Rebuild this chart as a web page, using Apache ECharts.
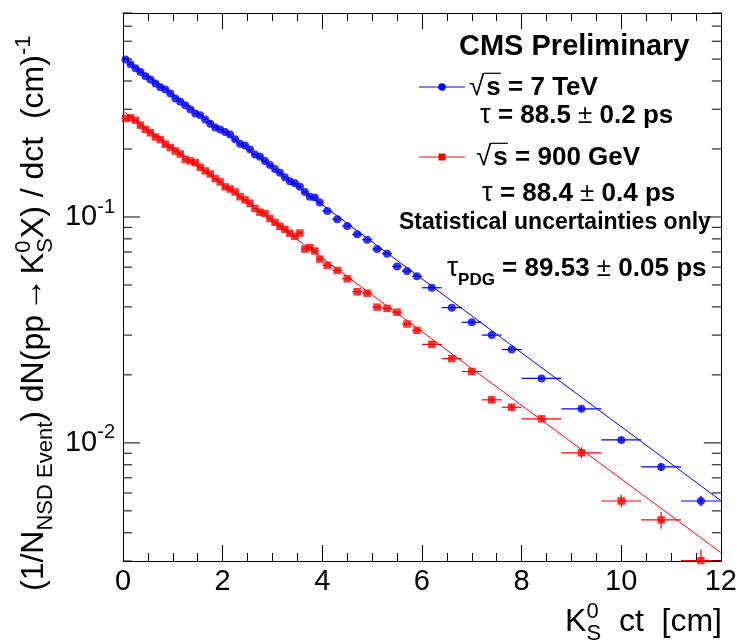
<!DOCTYPE html>
<html>
<head>
<meta charset="utf-8">
<script src="https://cdn.jsdelivr.net/npm/echarts@6/dist/echarts.min.js"></script>
<style>
  html, body { margin: 0; padding: 0; background: #fff; }
  #chart { width: 740px; height: 642px; }
</style>
</head>
<body>
<div id="chart"></div>
<script>
// K0s proper decay length distributions, CMS 7 TeV and 900 GeV.

// Bin centres (cm) of the ct histogram
const binCentres = [
  0.05, 0.15, 0.25, 0.35, 0.45, 0.55, 0.65, 0.75, 0.85, 0.95,
  1.05, 1.15, 1.25, 1.35, 1.45, 1.55, 1.65, 1.75, 1.85, 1.95,
  2.05, 2.15, 2.25, 2.35, 2.45, 2.55, 2.65, 2.75, 2.85, 2.95,
  3.05, 3.15, 3.25, 3.35, 3.45, 3.55, 3.65, 3.75, 3.85, 3.95,
  4.1, 4.3, 4.5, 4.7, 4.9, 5.1, 5.3, 5.5, 5.7, 5.9,
  6.2, 6.6, 7.0, 7.4, 7.8,
  8.4, 9.2, 10.0, 10.8, 11.6
];
// Half bin widths (cm)
const binHalfWidths = [
  0.05, 0.05, 0.05, 0.05, 0.05, 0.05, 0.05, 0.05, 0.05, 0.05,
  0.05, 0.05, 0.05, 0.05, 0.05, 0.05, 0.05, 0.05, 0.05, 0.05,
  0.05, 0.05, 0.05, 0.05, 0.05, 0.05, 0.05, 0.05, 0.05, 0.05,
  0.05, 0.05, 0.05, 0.05, 0.05, 0.05, 0.05, 0.05, 0.05, 0.05,
  0.1, 0.1, 0.1, 0.1, 0.1, 0.1, 0.1, 0.1, 0.1, 0.1,
  0.2, 0.2, 0.2, 0.2, 0.2,
  0.4, 0.4, 0.4, 0.4, 0.4
];

// (1/N) dN/dct at sqrt(s) = 7 TeV
const yield7TeV = [
  0.498, 0.474, 0.455, 0.438, 0.420, 0.406, 0.390, 0.375, 0.367, 0.352,
  0.335, 0.324, 0.312, 0.300, 0.287, 0.282, 0.270, 0.259, 0.249, 0.244,
  0.238, 0.232, 0.221, 0.211, 0.207, 0.199, 0.189, 0.185, 0.177, 0.170,
  0.163, 0.157, 0.150, 0.144, 0.141, 0.136, 0.129, 0.123, 0.122, 0.116,
  0.1063, 0.0977, 0.0912, 0.0838, 0.0794, 0.0721, 0.0688, 0.0604, 0.0576, 0.0546,
  0.0486, 0.0397, 0.0342, 0.0300, 0.0259,
  0.0193, 0.01415, 0.01031, 0.00783, 0.00553
];
const err7TeV = [
  0, 0, 0, 0, 0, 0, 0, 0, 0, 0,
  0, 0, 0, 0, 0, 0, 0, 0, 0, 0,
  0, 0, 0, 0, 0, 0, 0, 0, 0, 0,
  0, 0, 0, 0, 0, 0, 0, 0, 0, 0,
  0, 0, 0, 0, 0, 0, 0, 0, 0, 0,
  0.0003, 0.0003, 0.0003, 0.0003, 0.0003,
  0.0003, 0.0003, 0.0003, 0.0003, 0.0003
];

// (1/N) dN/dct at sqrt(s) = 900 GeV
const yield900GeV = [
  0.273, 0.275, 0.268, 0.255, 0.244, 0.236, 0.226, 0.220, 0.210, 0.203,
  0.196, 0.190, 0.180, 0.177, 0.174, 0.166, 0.160, 0.155, 0.148, 0.143,
  0.136, 0.133, 0.129, 0.123, 0.119, 0.115, 0.109, 0.105, 0.1035, 0.0984,
  0.0947, 0.0909, 0.0882, 0.0847, 0.0821, 0.0849, 0.0721, 0.0732, 0.0707, 0.0651,
  0.0611, 0.0580, 0.0533, 0.0467, 0.0460, 0.0399, 0.0394, 0.0379, 0.0336, 0.0315,
  0.0273, 0.0236, 0.0207, 0.01551, 0.01438,
  0.01278, 0.00904, 0.00553, 0.00456, 0.00301
];
const err900GeV = [
  0, 0, 0, 0, 0, 0, 0, 0, 0, 0,
  0, 0, 0, 0, 0, 0, 0, 0, 0, 0,
  0, 0, 0, 0, 0, 0, 0, 0, 0, 0,
  0, 0, 0, 0, 0, 0, 0, 0, 0, 0,
  0, 0, 0, 0, 0, 0, 0, 0, 0, 0,
  0.0003, 0.0003, 0.0003, 0.0004, 0.0004,
  0.0004, 0.0005, 0.00036, 0.00039, 0.00037
];

// Exponential fits, value at ct = 0 and ct = 12 cm
const fitRange = [0, 12];
const fit7TeV = [0.511, 0.00555];
const fit900GeV = [0.295, 0.00327];

// Axis ticks
const xTickValues = [0, 2, 4, 6, 8, 10, 12];
const yDecades = [-3, -2, -1];
const yMantissas = [1, 2, 3, 4, 5, 6, 7, 8, 9];

const X_MIN = 0, X_MAX = 12, Y_MIN = 0.003, Y_MAX = 0.8;
const FONT = '"Liberation Sans", Arial, Helvetica, sans-serif';
const BLUE = '#0000ff', RED = '#ff0000';

const chart = echarts.init(document.getElementById('chart'), null, { renderer: 'canvas' });

// ---- text helpers -------------------------------------------------------
const measureCtx = document.createElement('canvas').getContext('2d');
function textWidth(t, size, weight) {
  measureCtx.font = (weight || 'normal') + ' ' + size + 'px ' + FONT;
  return measureCtx.measureText(t).width;
}
// Lays out text pieces along one baseline (local y = 0) starting at local x = 0.
function textRun(pieces) {
  let x = 0;
  const children = [];
  pieces.forEach(p => {
    const w = textWidth(p.t, p.size, p.weight);
    const x0 = x + (p.dx || 0);
    children.push({
      type: 'text', x: x0, y: (p.dy || 0) - 0.35 * p.size,
      style: {
        text: p.t, fontSize: p.size, fontWeight: p.weight || 'normal', fontFamily: FONT,
        fill: p.color || '#000', textAlign: 'left', textVerticalAlign: 'middle', verticalAlign: 'middle'
      }
    });
    if (p.over) {
      // overline of the square root sign
      children.push({
        type: 'line',
        shape: { x1: x0 - 3, y1: -0.9 * p.size, x2: x0 + w, y2: -0.9 * p.size },
        style: { stroke: '#000', lineWidth: 1.2 }
      });
    }
    if (!p.hold) x = x0 + w;
  });
  return { children, width: x };
}
function placeRun(pieces, x, y, align) {
  const run = textRun(pieces);
  return { type: 'group', x: align === 'right' ? x - run.width : x, y: y, children: run.children };
}

// ---- graphic overlays: titles, legend, annotations -----------------------
const yTitle = textRun([
  { t: '(1/N', size: 32 },
  { t: 'NSD Event', size: 22, dy: 9 },
  { t: ') dN(pp\u2009', size: 32 },
  { t: '\u2192', size: 34, dx: -3 },
  { t: '\u2009K', size: 32, dx: -3 },
  { t: '0', size: 22, dy: -13, hold: true },
  { t: 'S', size: 22, dy: 9 },
  { t: 'X) / dct  (cm)', size: 32 },
  { t: '-1', size: 22, dy: -13 }
]);

const graphics = [
  // y axis title, reading bottom to top
  { type: 'group', x: 45, y: 591, rotation: Math.PI / 2, children: yTitle.children },
  // x axis title
  placeRun([
    { t: 'K', size: 32 },
    { t: '0', size: 22, dy: -13, hold: true },
    { t: 'S', size: 22, dy: 9 },
    { t: '  ct  [cm]', size: 32 }
  ], 722, 633, 'right'),
  // experiment label
  placeRun([{ t: 'CMS Preliminary', size: 29, weight: 'bold' }], 459, 56.7),
  // legend markers
  { type: 'line', shape: { x1: 419, y1: 87, x2: 465, y2: 87 }, style: { stroke: BLUE, lineWidth: 1 } },
  { type: 'circle', shape: { cx: 442, cy: 87, r: 3.8 }, style: { fill: BLUE } },
  { type: 'line', shape: { x1: 419, y1: 157, x2: 465, y2: 157 }, style: { stroke: RED, lineWidth: 1 } },
  { type: 'rect', shape: { x: 438.5, y: 153.5, width: 7, height: 7 }, style: { fill: RED } },
  // legend texts
  placeRun([
    { t: '\u221A', size: 28 },
    { t: 's', size: 26, weight: 'bold', over: true, dx: 2 },
    { t: ' = 7 TeV', size: 26, weight: 'bold' }
  ], 469, 96.7),
  placeRun([
    { t: '\u03C4', size: 27 },
    { t: ' = 88.5 ', size: 26, weight: 'bold' },
    { t: '\u00B1', size: 26 },
    { t: ' 0.2 ps', size: 26, weight: 'bold' }
  ], 480, 125),
  placeRun([
    { t: '\u221A', size: 28 },
    { t: 's', size: 26, weight: 'bold', over: true, dx: 2 },
    { t: ' = 900 GeV', size: 26, weight: 'bold' }
  ], 476, 166.7),
  placeRun([
    { t: '\u03C4', size: 27 },
    { t: ' = 88.4 ', size: 26, weight: 'bold' },
    { t: '\u00B1', size: 26 },
    { t: ' 0.4 ps', size: 26, weight: 'bold' }
  ], 482, 203.3),
  placeRun([{ t: 'Statistical uncertainties only', size: 23, weight: 'bold' }], 399, 230.7),
  placeRun([
    { t: '\u03C4', size: 28 },
    { t: 'PDG', size: 17, weight: 'bold', dy: 8 },
    { t: ' = 89.53 ', size: 26, weight: 'bold' },
    { t: '\u00B1', size: 26 },
    { t: ' 0.05 ps', size: 26, weight: 'bold' }
  ], 447, 278.3)
];

// ---- series data ----------------------------------------------------------
function points(values) {
  return binCentres.map((x, i) => [x, values[i]]);
}
function errorData(values, errs) {
  return binCentres.map((x, i) => [x, values[i], binHalfWidths[i], errs[i]]);
}
function errorBars(color) {
  return function (params, api) {
    const x = api.value(0), y = api.value(1), hw = api.value(2), e = api.value(3);
    const c = api.coord([x, y]);
    const l = api.coord([x - hw, y]);
    const r = api.coord([x + hw, y]);
    const children = [{
      type: 'line', shape: { x1: l[0], y1: c[1], x2: r[0], y2: c[1] },
      style: { stroke: color, lineWidth: 1.2 }
    }];
    if (e > 0) {
      const t = api.coord([x, y + e]);
      const b = api.coord([x, Math.max(y - e, 1e-4)]);
      children.push({
        type: 'line', shape: { x1: c[0], y1: t[1], x2: c[0], y2: b[1] },
        style: { stroke: color, lineWidth: 1.2 }
      });
    }
    return { type: 'group', children };
  };
}

// y tick marks (log decades with 2..9 subdivisions) on both frame sides
const yTickData = [];
yDecades.forEach(d => yMantissas.forEach(m => {
  const v = m * Math.pow(10, d);
  if (v >= Y_MIN && v <= Y_MAX) yTickData.push([X_MIN, v, m === 1 ? 1 : 0]);
}));

function xAxisCfg(position, showLabels) {
  return {
    type: 'value', min: X_MIN, max: X_MAX, interval: 2, position: position,
    axisLine: { show: true, onZero: false, lineStyle: { color: '#000', width: 1 } },
    axisTick: { show: true, inside: true, length: 16, lineStyle: { color: '#000', width: 1 } },
    minorTick: { show: true, splitNumber: 4, length: 8, lineStyle: { color: '#000', width: 1 } },
    splitLine: { show: false },
    minorSplitLine: { show: false },
    axisLabel: {
      show: showLabels, fontSize: 29, fontFamily: FONT, color: '#000', margin: 6,
      formatter: v => (xTickValues.indexOf(v) >= 0 ? String(v) : '')
    }
  };
}

const option = {
  animation: false,
  backgroundColor: '#fff',
  grid: { left: 123, right: 17, top: 13, bottom: 81, containLabel: false },
  xAxis: [xAxisCfg('bottom', true), xAxisCfg('top', false)],
  yAxis: [
    {
      type: 'log', logBase: 10, min: Y_MIN, max: Y_MAX, position: 'left',
      axisLine: { show: true, onZero: false, lineStyle: { color: '#000', width: 1 } },
      axisTick: { show: false },
      splitLine: { show: false },
      axisLabel: {
        show: true, margin: 8, showMinLabel: false, showMaxLabel: false,
        formatter: v => '{m|10}{e|' + Math.round(Math.log10(v)) + '}',
        rich: {
          m: { fontSize: 29, fontFamily: FONT, color: '#000', lineHeight: 40, verticalAlign: 'middle' },
          e: { fontSize: 20, fontFamily: FONT, color: '#000', lineHeight: 16, verticalAlign: 'top' }
        }
      }
    },
    {
      type: 'log', logBase: 10, min: Y_MIN, max: Y_MAX, position: 'right',
      axisLine: { show: true, onZero: false, lineStyle: { color: '#000', width: 1 } },
      axisTick: { show: false }, axisLabel: { show: false }, splitLine: { show: false }
    }
  ],
  graphic: graphics,
  series: [
    {
      name: 'fit 7 TeV', type: 'line', symbol: 'none', silent: true, z: 2,
      data: [[fitRange[0], fit7TeV[0]], [fitRange[1], fit7TeV[1]]],
      lineStyle: { color: BLUE, width: 1 }
    },
    {
      name: 'fit 900 GeV', type: 'line', symbol: 'none', silent: true, z: 2,
      data: [[fitRange[0], fit900GeV[0]], [fitRange[1], fit900GeV[1]]],
      lineStyle: { color: RED, width: 1 }
    },
    {
      name: 'err 7 TeV', type: 'custom', clip: true, z: 3,
      renderItem: errorBars(BLUE), data: errorData(yield7TeV, err7TeV)
    },
    {
      name: 'err 900 GeV', type: 'custom', clip: true, z: 3,
      renderItem: errorBars(RED), data: errorData(yield900GeV, err900GeV)
    },
    {
      name: '\u221As = 7 TeV', type: 'scatter', symbol: 'circle', symbolSize: 8, z: 4,
      itemStyle: { color: BLUE }, data: points(yield7TeV)
    },
    {
      name: '\u221As = 900 GeV', type: 'scatter', symbol: 'rect', symbolSize: 7.5, z: 4,
      itemStyle: { color: RED }, data: points(yield900GeV)
    },
    {
      name: 'y ticks', type: 'custom', clip: false, silent: true, z: 5,
      data: yTickData,
      renderItem: function (params, api) {
        const v = api.value(1);
        const len = api.value(2) ? 17 : 9;
        const l = api.coord([X_MIN, v]);
        const r = api.coord([X_MAX, v]);
        return {
          type: 'group', children: [
            { type: 'line', shape: { x1: l[0], y1: l[1], x2: l[0] + len, y2: l[1] }, style: { stroke: '#000', lineWidth: 1 } },
            { type: 'line', shape: { x1: r[0] - len, y1: r[1], x2: r[0], y2: r[1] }, style: { stroke: '#000', lineWidth: 1 } }
          ]
        };
      }
    }
  ]
};

chart.setOption(option);
</script>
</body>
</html>
